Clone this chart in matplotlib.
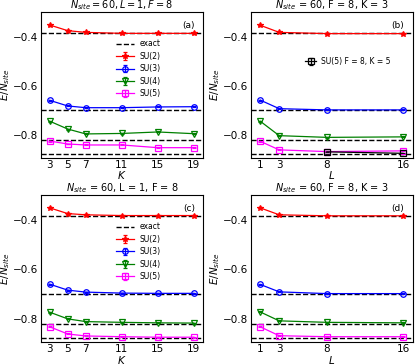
import matplotlib
matplotlib.use("Agg")
import matplotlib.pyplot as plt
from matplotlib.ticker import MultipleLocator

K = [3, 5, 7, 11, 15, 19]
L = [1, 3, 8, 16]
exact = [-0.386, -0.701, -0.821, -0.878]
labels = ["SU(2)", "SU(3)", "SU(4)", "SU(5)"]

a_vals = [
    [-0.353, -0.376, -0.383, -0.387, -0.387, -0.387],
    [-0.660, -0.683, -0.690, -0.690, -0.687, -0.686],
    [-0.745, -0.777, -0.797, -0.795, -0.789, -0.796],
    [-0.826, -0.838, -0.842, -0.842, -0.853, -0.853],
]
b_vals = [
    [-0.354, -0.383, -0.388, -0.388],
    [-0.659, -0.694, -0.699, -0.699],
    [-0.745, -0.804, -0.811, -0.809],
    [-0.827, -0.862, -0.869, -0.866],
]
b_extra_L = [8, 16]
b_extra = [-0.870, -0.876]
c_vals = [
    [-0.353, -0.376, -0.381, -0.384, -0.384, -0.384],
    [-0.661, -0.685, -0.693, -0.697, -0.698, -0.698],
    [-0.774, -0.801, -0.812, -0.815, -0.817, -0.818],
    [-0.833, -0.862, -0.870, -0.873, -0.875, -0.875],
]
d_vals = [
    [-0.353, -0.381, -0.385, -0.385],
    [-0.662, -0.692, -0.699, -0.699],
    [-0.773, -0.809, -0.815, -0.817],
    [-0.833, -0.869, -0.873, -0.873],
]

colors = ["red", "blue", "green", "magenta"]
markers = ["*", "o", "v", "s"]

fig = plt.figure(figsize=(4.15, 3.64), dpi=100)
pos = {
    "a": [0.098, 0.566, 0.391, 0.401],
    "b": [0.604, 0.566, 0.390, 0.401],
    "c": [0.098, 0.060, 0.391, 0.405],
    "d": [0.604, 0.060, 0.390, 0.405],
}
titles = {
    "a": r"$N_{site}=60, L=1, F=8$",
    "b": r"$N_{site}$ = 60, F = 8, K = 3",
    "c": r"$N_{site}$ = 60, L = 1, F = 8",
    "d": r"$N_{site}$ = 60, F = 8, K = 3",
}
data = {"a": (K, a_vals), "b": (L, b_vals), "c": (K, c_vals), "d": (L, d_vals)}

for key in ["a", "b", "c", "d"]:
    ax = fig.add_axes(pos[key])
    xs, vals = data[key]
    for e in exact:
        ax.axhline(e, color="black", ls="--", lw=1.0, label="exact" if e == exact[0] else None)
    for i in range(4):
        mfc = colors[i] if markers[i] == "*" else "none"
        ax.errorbar(xs, vals[i], yerr=[0.002] * len(xs), color=colors[i], marker=markers[i],
                    ms=4, mfc=mfc, mew=0.9, lw=0.9, capsize=1.5, label=labels[i])
    if key == "b":
        ax.errorbar(b_extra_L, b_extra, yerr=[0.002] * 2, color="black", marker="s", ms=4,
                    mfc="none", mew=0.9, lw=0.9, capsize=1.5, label="SU(5) F = 8, K = 5")
        h, l = ax.get_legend_handles_labels()
        ax.legend([h[-1]], [l[-1]], loc="center", bbox_to_anchor=(0.6, 0.66),
                  frameon=False, fontsize=5.5, handlelength=1.5, handletextpad=0.6)
    if key in ("a", "c"):
        ax.legend(loc="upper center", bbox_to_anchor=(0.6, 0.86), frameon=False, fontsize=5.5,
                  handlelength=2.4, labelspacing=0.45, handletextpad=0.7)
    if key in ("a", "c"):
        ax.set_xlim(2, 20)
        ax.set_xticks(K)
        ax.set_xlabel(r"$K$", fontsize=7.5, labelpad=-0.5)
    else:
        ax.set_xlim(0, 17)
        ax.set_xticks(L)
        ax.set_xlabel(r"$L$", fontsize=7.5, labelpad=-0.5)
    ax.set_ylim(-0.895, -0.30)
    ax.yaxis.set_major_locator(MultipleLocator(0.2))
    ax.set_ylabel(r"$E/N_{site}$", fontsize=7.5, labelpad=1)
    ax.tick_params(labelsize=7.5, length=0, pad=1.5)
    ax.set_title(titles[key], fontsize=7, pad=1)
    ax.text(0.95, 0.94, "(%s)" % key, transform=ax.transAxes, ha="right", va="top", fontsize=6.5)

fig.savefig("out.png", dpi=100)
